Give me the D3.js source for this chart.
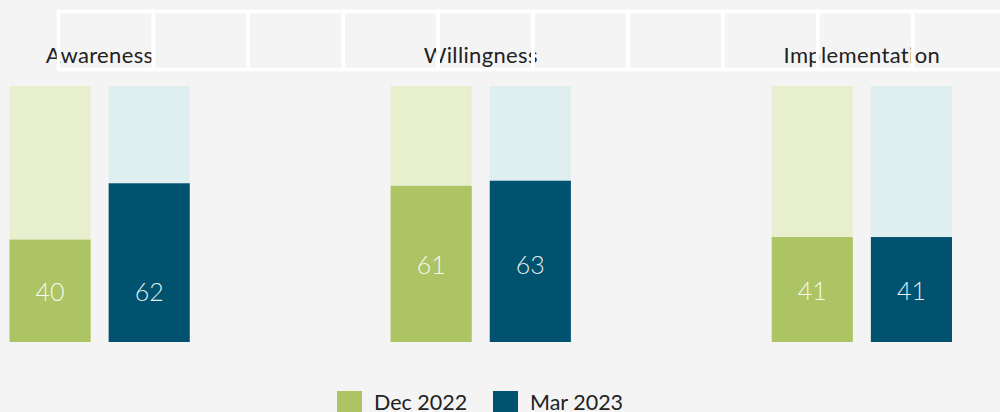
<!DOCTYPE html>
<html>
<head>
<meta charset="utf-8">
<script src="https://cdn.jsdelivr.net/npm/d3@7"></script>
<style>
  html, body { margin: 0; padding: 0; background: #f4f4f4; }
  svg { display: block; font-family: Lato, "Noto Sans", sans-serif; font-variant-ligatures: none; font-feature-settings: "liga" 0, "clig" 0; }
</style>
</head>
<body>
<svg id="chart" width="1000" height="412"></svg>
<script>
// Survey stages and the share (%) reached in each wave
const categories = ["Awareness", "Willingness", "Implementation"];
const seriesNames = ["Dec 2022", "Mar 2023"];
const dec2022 = [40, 61, 41];
const mar2023 = [62, 63, 41];

const colors = { "Dec 2022": "#acc463", "Mar 2023": "#00526f" };
const trackColors = { "Dec 2022": "#e8efcf", "Mar 2023": "#dfeeef" };

const svg = d3.select("#chart");
const W = 1000, H = 412;

svg.append("rect").attr("width", W).attr("height", H).attr("fill", "#f4f4f4");

const x0 = d3.scaleBand().domain(categories).range([9.5, 952]).paddingInner(0.527).paddingOuter(0);
const x1 = d3.scaleBand().domain(seriesNames).range([0, x0.bandwidth()]).paddingInner(0.1818).paddingOuter(0);
const y = d3.scaleLinear().domain([0, 100]).range([342, 86]);

const rows = categories.map((c, i) => ({
  category: c,
  labelValue: dec2022[i],
  values: [
    { series: "Dec 2022", value: dec2022[i] },
    { series: "Mar 2023", value: mar2023[i] }
  ]
}));

const groups = svg.append("g").selectAll("g.group")
  .data(rows).join("g")
  .attr("class", "group")
  .attr("transform", d => `translate(${x0(d.category)},0)`);

// full-height track behind each bar
groups.selectAll("rect.track")
  .data(d => d.values).join("rect")
  .attr("class", "track")
  .attr("x", d => x1(d.series))
  .attr("y", y(100))
  .attr("width", x1.bandwidth())
  .attr("height", y(0) - y(100))
  .attr("fill", d => trackColors[d.series]);

// value bars
groups.selectAll("rect.bar")
  .data(d => d.values).join("rect")
  .attr("class", "bar")
  .attr("x", d => x1(d.series))
  .attr("y", d => y(d.value))
  .attr("width", x1.bandwidth())
  .attr("height", d => y(0) - y(d.value))
  .attr("fill", d => colors[d.series]);

// value labels: both labels of a stage share one row, centred on the first wave's bar
groups.selectAll("text.val")
  .data(d => d.values.map(v => ({ ...v, rowValue: d.labelValue }))).join("text")
  .attr("class", "val")
  .attr("x", d => x1(d.series) + x1.bandwidth() / 2)
  .attr("y", d => (y(d.rowValue) + y(0)) / 2)
  .attr("text-anchor", "middle")
  .attr("dominant-baseline", "central")
  .attr("font-size", 25)
  .attr("font-weight", 300)
  .attr("fill", "rgba(255,255,255,0.92)")
  .text(d => d.value);

// stage titles
svg.append("g").selectAll("text.title")
  .data(rows).join("text")
  .attr("class", "title")
  .attr("x", d => x0(d.category) + x0.bandwidth() / 2)
  .attr("y", 63)
  .attr("text-anchor", "middle")
  .attr("font-size", 22)
  .attr("letter-spacing", 0.35)
  .attr("fill", "#222")
  .text(d => d.category);

// white table grid laid over the header band
const gridLeft = 58.5, cellW = 94.9, gridTop = 11.5, gridBottom = 69.5;
const cells = d3.range(0, 10).map(i => gridLeft + i * cellW);
svg.append("g").selectAll("rect.cell")
  .data(cells).join("rect")
  .attr("class", "cell")
  .attr("x", d => d)
  .attr("y", gridTop)
  .attr("width", cellW)
  .attr("height", gridBottom - gridTop)
  .attr("fill", "none")
  .attr("stroke", "#ffffff")
  .attr("stroke-width", 3.5);

// legend
const legendX = { "Dec 2022": 337, "Mar 2023": 493 };
const legend = svg.append("g").selectAll("g.leg")
  .data(seriesNames).join("g")
  .attr("class", "leg")
  .attr("transform", d => `translate(${legendX[d]},391)`);
legend.append("rect")
  .attr("width", 25).attr("height", 25)
  .attr("fill", d => colors[d]);
legend.append("text")
  .attr("x", 37)
  .attr("y", 19)
  .attr("font-size", 21.5)
  .attr("fill", "#222")
  .text(d => d);
</script>
</body>
</html>
